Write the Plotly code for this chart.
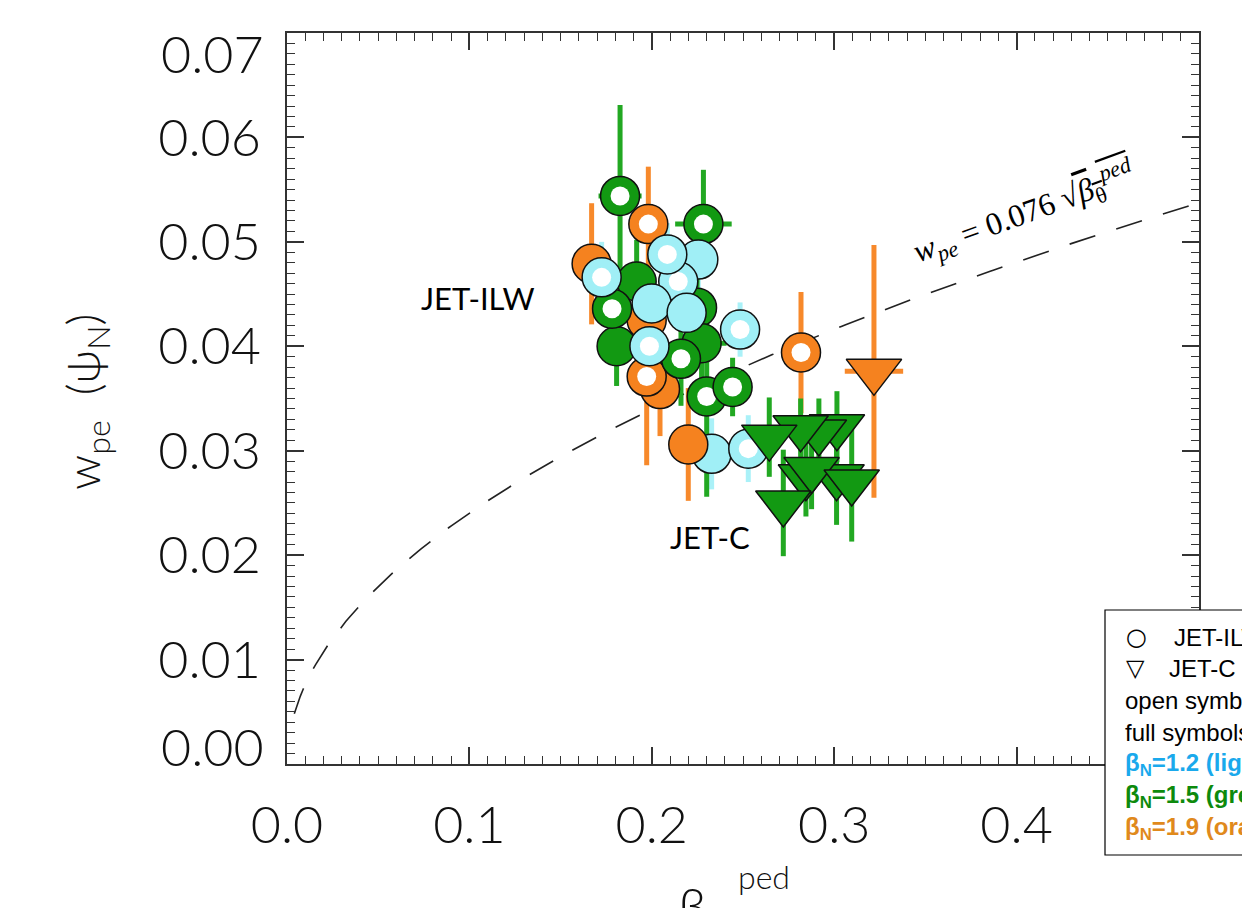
import plotly.graph_objects as go
import numpy as np

W, H = 1242, 908
PL, PR, PT, PB = 287, 1199, 33, 764   # plot area in pixels

# ---------------- data ----------------
# JET-ILW (circles), drawn in this order
ilw_x = [0.1670, 0.1972, 0.2045, 0.1972, 0.1981, 0.1826, 0.2283, 0.1917, 0.2248,
         0.2273, 0.1807, 0.1782, 0.2160, 0.2301, 0.2443, 0.1725, 0.2255, 0.2145,
         0.2085, 0.1999, 0.2191, 0.1987, 0.2484, 0.2328, 0.2529, 0.2200, 0.2818]
ilw_y = [0.0479, 0.0425, 0.0359, 0.0371, 0.0517, 0.0544, 0.0517, 0.0462, 0.0437,
         0.0403, 0.0400, 0.0436, 0.0388, 0.0352, 0.0361, 0.0466, 0.0483, 0.0462,
         0.0488, 0.0441, 0.0432, 0.0400, 0.0416, 0.0297, 0.0302, 0.0306, 0.0394]
ilw_ey = [0.0058, 0.0050, 0.0045, 0.0085, 0.0055, 0.0087, 0.0052, 0.0040, 0.0040,
          0.0040, 0.0038, 0.0040, 0.0045, 0.0096, 0.0028, 0.0034, 0.0030, 0.0030,
          0.0030, 0.0030, 0.0030, 0.0030, 0.0026, 0.0034, 0.0032, 0.0054, 0.0058]
ilw_ex = [0, 0, 0, 0, 0, 0.0118, 0.0155, 0, 0,
          0.0137, 0, 0, 0, 0, 0, 0, 0, 0,
          0, 0, 0, 0, 0, 0, 0, 0, 0]
ilw_bn = ['1.9', '1.9', '1.9', '1.9', '1.9', '1.5', '1.5', '1.5', '1.5',
          '1.5', '1.5', '1.5', '1.5', '1.5', '1.5', '1.2', '1.2', '1.2',
          '1.2', '1.2', '1.2', '1.2', '1.2', '1.2', '1.2', '1.9', '1.9']
ilw_open = [0, 0, 0, 1, 1, 1, 1, 0, 0,
            0, 0, 1, 1, 1, 1, 1, 0, 1,
            1, 0, 0, 1, 1, 0, 1, 0, 1]

# JET-C (triangles), drawn in this order
c_x = [0.3218, 0.3015, 0.2916, 0.2816, 0.2644, 0.2845, 0.3013, 0.2876, 0.3096, 0.2721]
c_y = [0.0376, 0.0323, 0.0318, 0.0322, 0.0313, 0.0275, 0.0275, 0.0282, 0.0270, 0.0250]
c_ey = [0.0121, 0.0034, 0.0032, 0.0028, 0.0038, 0.0038, 0.0046, 0.0038, 0.0057, 0.0051]
c_ex = [0.0160, 0, 0, 0, 0, 0, 0, 0, 0, 0]
c_bn = ['1.9', '1.5', '1.5', '1.5', '1.5', '1.5', '1.5', '1.5', '1.5', '1.5']

fit_coef = 0.076
x_ticks = [0.0, 0.1, 0.2, 0.3, 0.4, 0.5]
y_ticks = [0.00, 0.01, 0.02, 0.03, 0.04, 0.05, 0.06, 0.07]

legend_lines = ["open symbols: low triangularity", "full symbols: high triangularity"]
bn_lines = [("1.2", "light blue"), ("1.5", "green"), ("1.9", "orange")]

# ---------------- styles ----------------
FILL = {'1.2': '#a0eff6', '1.5': '#129912', '1.9': '#f5821f'}
ERRC = {'1.2': '#aaf1f8', '1.5': '#22a822', '1.9': '#f7892b'}
TXTC = {'1.2': '#1aa9ec', '1.5': '#0d8a0d', '1.9': '#e0891c'}
CIRC = 39
HOLE = 19
TRI = 48

fig = go.Figure()

# fitted curve
xf = np.linspace(0.004, 0.5, 300)
fig.add_trace(go.Scatter(x=xf, y=fit_coef * np.sqrt(xf), mode='lines',
                         line=dict(color='#222222', width=1.6, dash='27px,22px'),
                         hoverinfo='skip', showlegend=False))

# error bars (beneath all symbols)
def add_errors(xs, ys, eys, exs, bns):
    for g in ['1.2', '1.5', '1.9']:
        idx = [i for i, b in enumerate(bns) if b == g]
        if not idx:
            continue
        fig.add_trace(go.Scatter(
            x=[xs[i] for i in idx], y=[ys[i] for i in idx], mode='markers',
            marker=dict(size=1, color='rgba(0,0,0,0)'),
            error_y=dict(type='data', array=[eys[i] for i in idx], color=ERRC[g],
                         thickness=5, width=0),
            error_x=dict(type='data', array=[exs[i] for i in idx], color=ERRC[g],
                         thickness=5, width=0),
            hoverinfo='skip', showlegend=False))

add_errors(ilw_x, ilw_y, ilw_ey, ilw_ex, ilw_bn)
add_errors(c_x, c_y, c_ey, c_ex, c_bn)

# circles (JET-ILW)
for i in range(len(ilw_x)):
    fig.add_trace(go.Scatter(
        x=[ilw_x[i]], y=[ilw_y[i]], mode='markers',
        marker=dict(symbol='circle', size=CIRC, color=FILL[ilw_bn[i]],
                    line=dict(color='#111111', width=1.5)),
        showlegend=False))
    if ilw_open[i]:
        fig.add_trace(go.Scatter(
            x=[ilw_x[i]], y=[ilw_y[i]], mode='markers',
            marker=dict(symbol='circle', size=HOLE, color='white',
                        line=dict(width=0)),
            showlegend=False))

# triangles (JET-C)
for i in range(len(c_x)):
    fig.add_trace(go.Scatter(
        x=[c_x[i]], y=[c_y[i]], mode='markers',
        marker=dict(symbol='triangle-down', size=TRI, color=FILL[c_bn[i]],
                    line=dict(color='#111111', width=1.5)),
        showlegend=False))

# ---------------- helpers for text placement ----------------
def px(xpix):
    return (xpix - PL) / (PR - PL)

def py(ypix):
    return (PB - ypix) / (PB - PT)

def note(xp, yp, text, font, xa='center', ya='middle', angle=0):
    return dict(x=px(xp), y=py(yp), xref='paper', yref='paper', text=text,
                showarrow=False, xanchor=xa, yanchor=ya, textangle=angle, font=font)

THIN = dict(family='Lato', color='#111111', weight=300)
TICKFONT = dict(size=52, **THIN)

ann = []
ann.append(note(478, 298, 'JET-ILW', dict(family='Lato', size=31, color='black')))
ann.append(note(710, 537, 'JET-C', dict(family='Lato', size=31, color='black')))

# fit label
ann.append(note(1024, 212,
                ("<i>w</i><sub><i>pe</i></sub> = 0.076 √"
                 "<span style='text-decoration:overline'><i>β</i><sub>θ</sub>"
                 "<sup><i>ped</i></sup></span>"),
                dict(family='Liberation Serif', size=32, color='black'), angle=-20))

# end tick labels of y axis (drawn inside the axis span, as in the original)
ann.append(note(266, 53, f'{y_ticks[-1]:.2f}', TICKFONT, xa='right'))
ann.append(note(266, 746, f'{y_ticks[0]:.2f}', TICKFONT, xa='right'))

# axis titles
ann.append(note(86, 402, 'w<sub>pe</sub>\u00a0\u00a0(ψ<sub>N</sub>)',
                dict(size=46, **THIN), angle=-90))
ann.append(note(692, 872, 'β', dict(size=54, **THIN), ya='top'))
ann.append(note(736, 898, 'ped', dict(size=32, **THIN), xa='left', ya='bottom'))

# legend box
shapes = [dict(type='rect', xref='paper', yref='paper',
               x0=px(1105), x1=px(1300), y0=py(855), y1=py(610),
               fillcolor='white', line=dict(color='black', width=1.2), layer='above')]

leg_font = dict(family='Liberation Sans', size=24, color='black')
sym_font = dict(family='DejaVu Sans', size=24, color='black')
row_y = [637, 668, 700, 732, 764, 796, 828]
ann.append(note(1124, row_y[0], '○', sym_font, xa='left'))
ann.append(note(1172, row_y[0], 'JET-ILW', leg_font, xa='left'))
ann.append(note(1124, row_y[1], '▽', sym_font, xa='left'))
ann.append(note(1167, row_y[1], 'JET-C', leg_font, xa='left'))
for k, t in enumerate(legend_lines):
    ann.append(note(1123, row_y[2 + k], t, leg_font, xa='left'))
for k, (v, name) in enumerate(bn_lines):
    ann.append(note(1123, row_y[4 + k], f'<b>β<sub>N</sub>={v} ({name})</b>',
                    dict(family='Liberation Sans', size=24, color=TXTC[v]), xa='left'))

axis_common = dict(showline=True, linewidth=1.5, linecolor='#333333', mirror='allticks',
                   ticks='inside', ticklen=17, tickwidth=1.5, tickcolor='#333333',
                   showgrid=False, zeroline=False, automargin=False,
                   tickfont=TICKFONT)

y_text = [''] + [f'{v:.2f}' for v in y_ticks[1:-1]] + ['']
# the 0.5 label lies under the legend box in the original, so it is left blank
x_text = [f'{v:.1f}' for v in x_ticks[:-1]] + ['']

fig.update_layout(
    width=W, height=H, autosize=False,
    margin=dict(l=PL, r=W - PR, t=PT, b=H - PB),
    paper_bgcolor='white', plot_bgcolor='white',
    xaxis=dict(range=[0, 0.5], tickvals=x_ticks, ticktext=x_text,
               minor=dict(dtick=0.01, ticks='inside', ticklen=8, tickwidth=1.3,
                          tickcolor='#333333'),
               ticklabelstandoff=15, **axis_common),
    yaxis=dict(range=[0, 0.07], tickvals=y_ticks, ticktext=y_text,
               minor=dict(dtick=0.001, ticks='inside', ticklen=8, tickwidth=1.3,
                          tickcolor='#333333'),
               ticklabelstandoff=14, **axis_common),
    annotations=ann, shapes=shapes, showlegend=False,
)

fig.write_html('out.html')
